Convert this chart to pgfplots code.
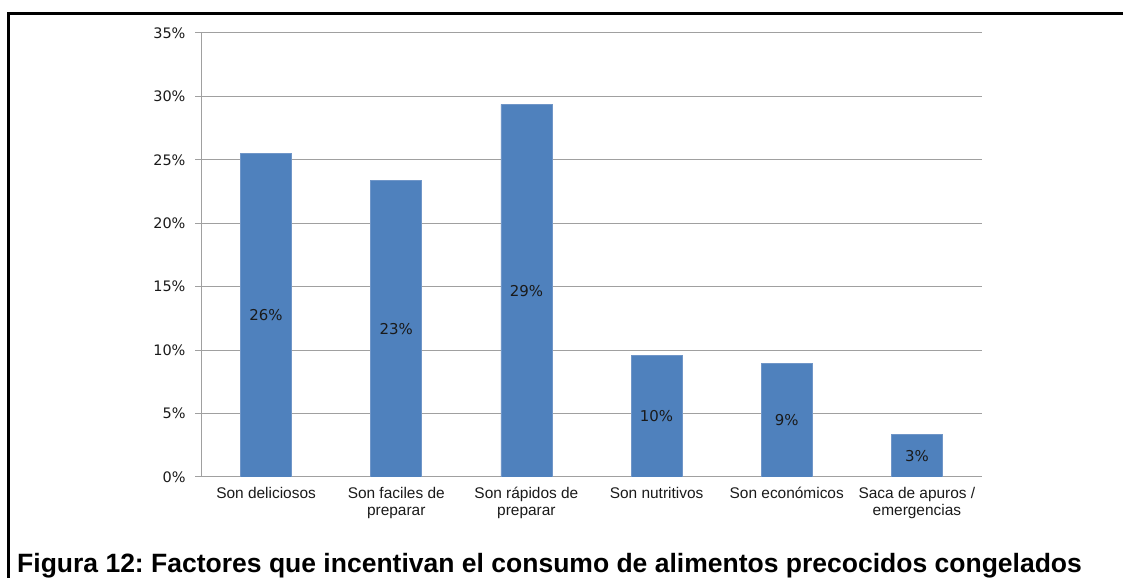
\documentclass[border=0pt]{standalone}
\usepackage{pgfplots}
\pgfplotsset{compat=1.18}
\usepackage{fontspec}
\setmainfont{Liberation Sans}
\newfontfamily\tahoma{DejaVu Sans}
\frenchspacing

\definecolor{barblue}{HTML}{4F81BD}
\definecolor{baredge}{HTML}{7096C8}
\definecolor{gridgray}{HTML}{A0A0A0}
\definecolor{labeltext}{HTML}{1A1A1A}

\pgfplotstableread{
x  val
0  25.52
1  23.39
2  29.38
3  9.59
4  8.96
5  3.36
}\factores

\begin{document}
\begin{tikzpicture}
\useasboundingbox (0bp,0bp) rectangle (1123bp,578bp);

% frame lines (left and top)
\draw[line width=3.5bp] (8.7bp,0bp) -- (8.7bp,564.7bp) -- (1123bp,564.7bp);

\begin{axis}[
  at={(201bp,101bp)}, anchor=south west,
  scale only axis,
  width=781bp, height=444bp,
  ymin=0, ymax=35,
  xmin=-0.5, xmax=5.5,
  axis lines*=left,
  axis line style={gridgray, line width=1bp},
  ymajorgrids,
  grid style={gridgray, line width=1bp},
  ytick={0,5,...,35},
  yticklabels={0\%,5\%,10\%,15\%,20\%,25\%,30\%,35\%},
  yticklabel style={font=\tahoma\fontsize{14.5}{16}\selectfont, text=labeltext, xshift=-6bp},
  ytick style={gridgray, line width=1bp},
  major tick length=6bp,
  tick align=outside,
  xtick={0,...,5},
  xticklabels={Son deliciosos, Son faciles de\\preparar, Son rápidos de\\preparar, Son nutritivos, Son económicos, Saca de apuros /\\emergencias},
  xticklabel style={font=\fontsize{15.5}{16.5}\selectfont, align=center, text=labeltext, anchor=north, yshift=-1bp},
  xtick style={draw=none},
  minor xtick={-0.5,0.5,...,5.5},
  minor x tick style={gridgray, line width=1bp},
  minor tick length=6bp,
  ybar,
  bar width=51bp,
  visualization depends on=y \as \rawy,
  nodes near coords={\pgfmathprintnumber[fixed,precision=0,assume math mode=true]{\pgfplotspointmeta}\%},
  nodes near coords align=center,
  every node near coord/.append style={font=\tahoma\fontsize{15}{16}\selectfont, text=labeltext, anchor=center, shift={(axis direction cs:0,-\rawy/2)}},
]
\addplot[fill=barblue, draw=baredge, line width=0.8bp] table[x=x, y=val] {\factores};
\end{axis}

\node[anchor=base west, inner sep=0, font=\bfseries\fontsize{26.6}{29}\selectfont] at (17bp,6bp)
  {Figura 12: Factores que incentivan el consumo de alimentos precocidos congelados};
\end{tikzpicture}
\end{document}
